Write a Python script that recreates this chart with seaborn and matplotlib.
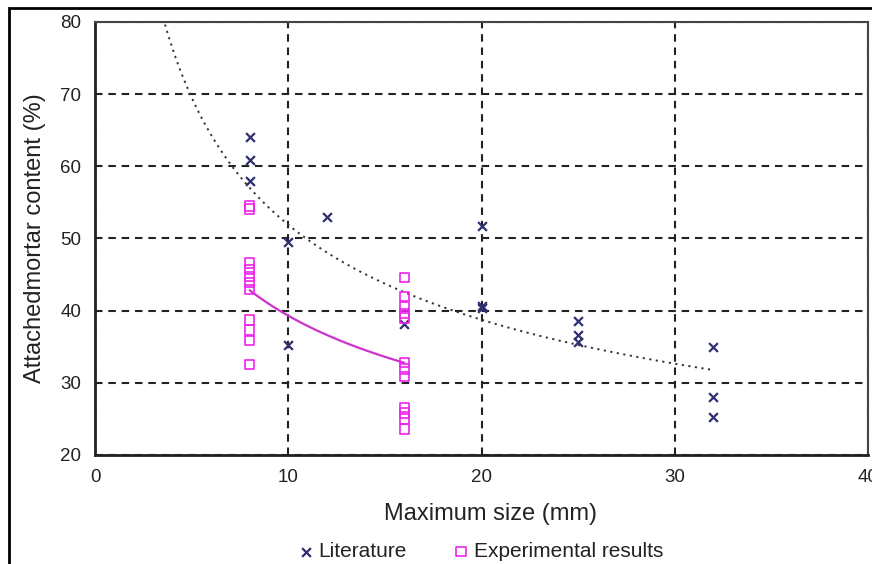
import numpy as np
import pandas as pd
import matplotlib
matplotlib.use('Agg')
import matplotlib.pyplot as plt
from matplotlib.patches import Rectangle
import seaborn as sns

# literature data (max size mm, attached mortar %)
lit_size = [8, 8, 8, 10, 10, 12, 16, 20, 20, 20, 25, 25, 25, 32, 32, 32]
lit_mortar = [64.0, 60.9, 57.9, 49.5, 35.3, 53.0, 38.2, 51.7, 40.6, 40.3,
              38.5, 36.6, 35.6, 34.9, 28.0, 25.2]

# experimental results
exp_size = [8] * 11 + [16] * 12
exp_mortar = [54.5, 54.1, 46.6, 45.7, 44.7, 43.9, 42.9, 38.7, 37.3, 35.9, 32.5,
              44.6, 42.0, 40.6, 39.6, 39.0, 32.8, 31.9, 30.9, 26.6, 25.8, 25.0, 23.6]

lit = pd.DataFrame({'size': lit_size, 'mortar': lit_mortar})
exp = pd.DataFrame({'size': exp_size, 'mortar': exp_mortar})

sns.set_style('white')
plt.rcParams['font.family'] = ['Liberation Sans', 'DejaVu Sans']

fig = plt.figure(figsize=(8.72, 5.64), dpi=100)
ax = fig.add_axes([0.109, 0.1933, 0.8864, 0.7677])

# power trendlines y = a * x^b
def power_fit(x, y):
    b, lna = np.polyfit(np.log(x), np.log(y), 1)
    return np.exp(lna), b

a1, b1 = power_fit(lit['size'], lit['mortar'])
a2, b2 = power_fit(exp['size'], exp['mortar'])
xx1 = np.linspace(3, 32, 200)
xx2 = np.linspace(8, 16, 100)
sns.lineplot(x=xx1, y=a1 * xx1 ** b1, ax=ax, color='#333333', lw=1.4,
             linestyle=(0, (1.1, 2.3)), zorder=2)
sns.lineplot(x=xx2, y=a2 * xx2 ** b2, ax=ax, color='#cc33cc', lw=1.6, zorder=2)

sns.scatterplot(data=lit, x='size', y='mortar', ax=ax, marker='x', s=40,
                color='#2e2e70', linewidth=1.6, label='Literature', zorder=3)
sns.scatterplot(data=exp, x='size', y='mortar', ax=ax, marker='s', s=45,
                facecolor='none', edgecolor='#ee22ee', linewidth=1.2,
                label='Experimental results', zorder=3)

ax.set_xlim(0, 40)
ax.set_ylim(20, 80)
ax.set_xticks([0, 10, 20, 30, 40])
ax.set_yticks([20, 30, 40, 50, 60, 70, 80])
ax.grid(True, color='#222222', linestyle=(0, (3.6, 2.8)), linewidth=1.5)
ax.tick_params(direction='inout', length=8, width=1, colors='#222222',
               labelsize=13.5, pad=6)
for s in ['left', 'bottom']:
    ax.spines[s].set_color('#222222')
    ax.spines[s].set_linewidth(2)
for s in ['top', 'right']:
    ax.spines[s].set_color('#444444')
    ax.spines[s].set_linewidth(1.5)

ax.set_xlabel('Maximum size (mm)', fontsize=17, color='#222222')
ax.xaxis.set_label_coords(0.512, -0.11)
ax.set_ylabel('Attachedmortar content (%)', fontsize=17, color='#222222', labelpad=10)

ax.get_legend().remove()
handles, labels = ax.get_legend_handles_labels()
fig.legend(handles, labels, loc='center', bbox_to_anchor=(0.552, 0.022), ncol=2,
           frameon=False, fontsize=15, handlelength=0.6, handletextpad=0.3,
           columnspacing=2.3, labelcolor='#222222')

# outer frame of the original figure
fig.add_artist(Rectangle((9 / 872, -0.1), 1.2, 1.1 - 8 / 564, transform=fig.transFigure,
                         fill=False, edgecolor='black', linewidth=2))

fig.savefig('out.png', dpi=100)
